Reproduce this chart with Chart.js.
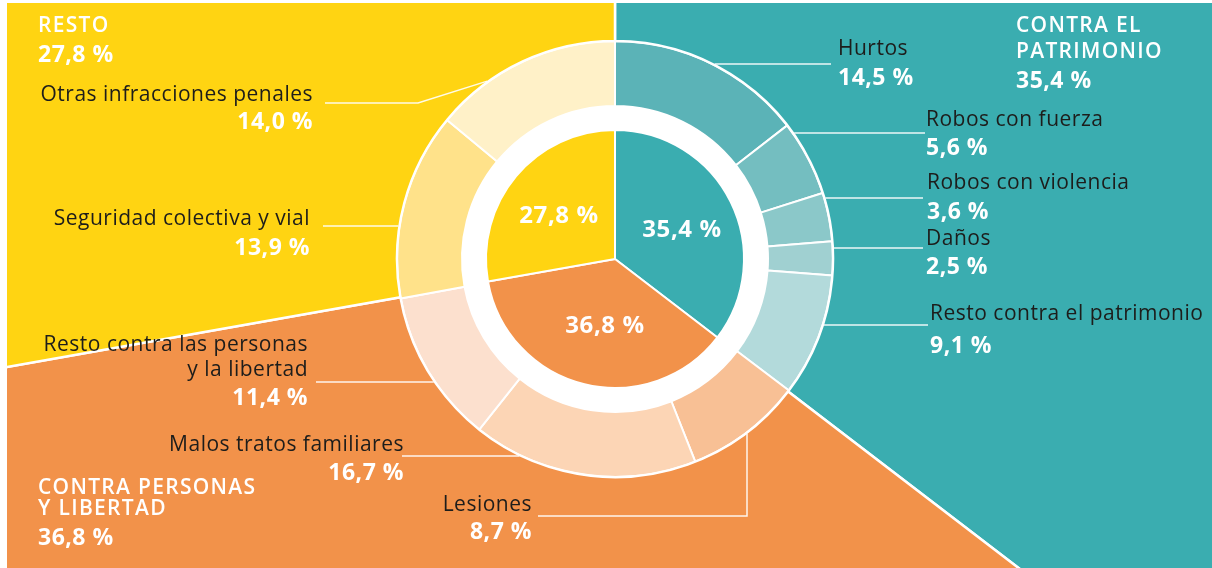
<!DOCTYPE html>
<html lang="es">
<head>
<meta charset="utf-8">
<title>Infracciones penales por tipo</title>
<script src="https://cdn.jsdelivr.net/npm/chart.js@4.4.1/dist/chart.umd.min.js"></script>
<style>
    html, body { margin: 0; padding: 0; background: #fff; }
    #wrap {
        position: relative;
        width: 1212px;
        height: 568px;
        overflow: hidden;
        background: #fff;
        font-family: "Open Sans", sans-serif;
    }
    #chart { position: absolute; left: 7px; top: 3px; }
    .lbl { position: absolute; white-space: nowrap; }
    .name { font-size: 21px; line-height: 21px; color: #1d1d1b; letter-spacing: 0.5px; }
    .val { font-size: 23px; line-height: 23px; font-weight: 700; color: #fff; letter-spacing: 0.5px; }
    .grp { font-size: 21px; line-height: 21px; font-weight: 600; color: #fff; letter-spacing: 1.3px; }
    .inner { font-size: 24px; line-height: 24px; font-weight: 700; color: #fff; letter-spacing: 0.6px; }
</style>
</head>
<body>
<div id="wrap">
    <canvas id="chart" width="1205" height="565"></canvas>
</div>
<script>
// grandes grupos (anillo interior y fondo)
const groupNames = [["CONTRA EL", "PATRIMONIO"], ["CONTRA PERSONAS", "Y LIBERTAD"], ["RESTO"]];
const groupValues = [35.4, 36.8, 27.8];
const groupColors = ["#3aadb0", "#f2924a", "#ffd412"];

// tipos de infracción (anillo exterior)
const ringNames = [
    ["Hurtos"],
    ["Robos con fuerza"],
    ["Robos con violencia"],
    ["Daños"],
    ["Resto contra el patrimonio"],
    ["Lesiones"],
    ["Malos tratos familiares"],
    ["Resto contra las personas", "y la libertad"],
    ["Seguridad colectiva y vial"],
    ["Otras infracciones penales"]
];
const ringValues = [14.5, 5.6, 3.6, 2.5, 9.1, 8.7, 16.7, 11.4, 13.9, 14.0];
const ringColors = [
    "#5bb3b7", "#74bec0", "#8bc8c9", "#a0d0d1", "#b3dadb",
    "#f8c095", "#fcd5b5", "#fce0ce",
    "#ffe28a", "#fff1c8"
];

// layout (px, coordenadas de página)
const PAGE_W = 1212;
const CANVAS_LEFT = 7;
const CANVAS_TOP = 3;
const BG_RADIUS = 900;
const RING_OUTER = 218;
const RING_INNER = 153;
const PIE_RADIUS = 129;

const ringLabelX = [838, 926, 927, 926, 930, 532, 404, 308, 310, 313];
const ringLabelAlign = ["left", "left", "left", "left", "left", "right", "right", "right", "right", "right"];
const ringNameBase = [[56], [127], [190], [246], [321], [512], [452], [352, 377], [226], [102]];
const ringValueBase = [85, 155, 219, 274, 353, 539, 480, 405, 255, 129];

const groupLabelX = [1016, 38, 38];
const groupNameBase = [[33, 59], [495, 516], [33]];
const groupValueBase = [88, 545, 62];

const innerLabelX = [682, 605, 559];
const innerLabelBase = [237, 333, 223];

// líneas de referencia: horizontal hasta x, vertical+horizontal, o en ángulo
const leaders = [
    { y: 64, x: 831 },
    { y: 133, x: 925 },
    { y: 198, x: 923 },
    { y: 248, x: 923 },
    { y: 325, x: 928 },
    { x: 747, y: 516, toX: 538 },
    { y: 456, x: 402 },
    { y: 382, x: 316 },
    { y: 226, x: 323 },
    { angle: 324.3, elbow: [418, 103], y: 103, x: 325 }
];

function fmt(v) {
    return v.toFixed(1).replace(".", ",") + " %";
}

const leaderLines = {
    id: "leaderLines",
    afterDatasetsDraw(chart) {
        const arc = chart.getDatasetMeta(1).data[0];
        const cx = arc.x;
        const cy = arc.y;
        const r = arc.outerRadius + 1;
        const ctx = chart.ctx;

        ctx.save();
        ctx.strokeStyle = "rgba(255,255,255,0.9)";
        ctx.lineWidth = 1.5;

        leaders.forEach(l => {
            const pts = [];
            if (l.angle !== undefined) {
                const a = l.angle * Math.PI / 180;
                pts.push([cx + r * Math.sin(a), cy - r * Math.cos(a)]);
                pts.push([l.elbow[0] - CANVAS_LEFT, l.elbow[1] - CANVAS_TOP]);
                pts.push([l.x - CANVAS_LEFT, l.y - CANVAS_TOP]);
            } else if (l.toX !== undefined) {
                const lx = l.x - CANVAS_LEFT;
                const dy = Math.sqrt(r * r - (lx - cx) * (lx - cx));
                pts.push([lx, cy + dy]);
                pts.push([lx, l.y - CANVAS_TOP]);
                pts.push([l.toX - CANVAS_LEFT, l.y - CANVAS_TOP]);
            } else {
                const ly = l.y - CANVAS_TOP;
                const lx = l.x - CANVAS_LEFT;
                const dx = Math.sqrt(r * r - (ly - cy) * (ly - cy));
                pts.push([lx > cx ? cx + dx : cx - dx, ly]);
                pts.push([lx, ly]);
            }
            ctx.beginPath();
            ctx.moveTo(pts[0][0], pts[0][1]);
            for (let i = 1; i < pts.length; i++) {
                ctx.lineTo(pts[i][0], pts[i][1]);
            }
            ctx.stroke();
        });

        ctx.restore();
    }
};

new Chart(document.getElementById("chart"), {
    type: "doughnut",
    data: {
        labels: ringNames.map(n => n.join(" ")),
        datasets: [
            {
                label: "fondo",
                data: groupValues,
                backgroundColor: groupColors,
                borderColor: "#fff",
                borderWidth: 2.5,
                weight: BG_RADIUS - RING_OUTER,
                clip: false
            },
            {
                label: "tipos",
                data: ringValues,
                backgroundColor: ringColors,
                borderColor: "#fff",
                borderWidth: 2,
                weight: RING_OUTER - RING_INNER
            },
            {
                label: "hueco",
                data: [1],
                backgroundColor: "#fff",
                borderWidth: 0,
                weight: RING_INNER - PIE_RADIUS
            },
            {
                label: "grupos",
                data: groupValues,
                backgroundColor: groupColors,
                borderColor: "#fff",
                borderWidth: 2,
                weight: PIE_RADIUS
            }
        ]
    },
    options: {
        responsive: false,
        animation: false,
        events: [],
        radius: BG_RADIUS,
        cutout: 0,
        layout: { padding: { left: 11, right: 0, top: 0, bottom: 53 } },
        plugins: {
            legend: { display: false },
            tooltip: { enabled: false }
        }
    },
    plugins: [leaderLines]
});

// textos
const wrap = document.getElementById("wrap");

function addText(text, cls, x, baseline, align, size) {
    const el = document.createElement("div");
    el.className = "lbl " + cls;
    el.textContent = text;
    el.style.top = (baseline - 0.888 * size) + "px";
    if (align === "right") {
        el.style.right = (PAGE_W - x) + "px";
    } else if (align === "center") {
        el.style.left = x + "px";
        el.style.transform = "translateX(-50%)";
    } else {
        el.style.left = x + "px";
    }
    wrap.appendChild(el);
}

ringNames.forEach((lines, i) => {
    lines.forEach((line, j) => {
        addText(line, "name", ringLabelX[i], ringNameBase[i][j], ringLabelAlign[i], 21);
    });
    addText(fmt(ringValues[i]), "val", ringLabelX[i], ringValueBase[i], ringLabelAlign[i], 23);
});

groupNames.forEach((lines, i) => {
    lines.forEach((line, j) => {
        addText(line, "grp", groupLabelX[i], groupNameBase[i][j], "left", 21);
    });
    addText(fmt(groupValues[i]), "val", groupLabelX[i], groupValueBase[i], "left", 23);
    addText(fmt(groupValues[i]), "inner", innerLabelX[i], innerLabelBase[i], "center", 24);
});
</script>
</body>
</html>
